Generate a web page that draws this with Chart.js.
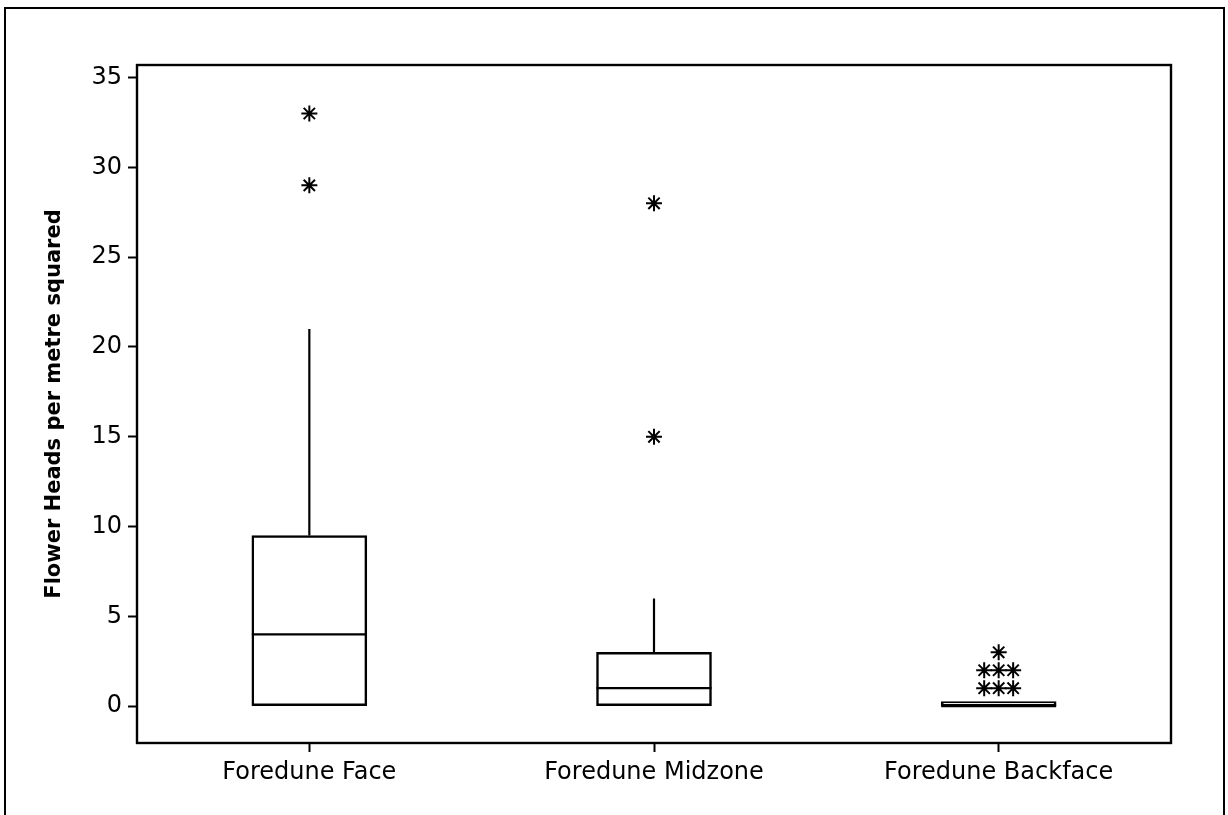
<!DOCTYPE html>
<html>
<head>
<meta charset="utf-8">
<script src="https://cdn.jsdelivr.net/npm/chart.js@4/dist/chart.umd.min.js"></script>
<style>
  html, body { margin: 0; padding: 0; background: #fff; overflow: hidden; }
  #wrap { position: relative; width: 1228px; height: 815px; }
  #frame { position: absolute; left: 4px; top: 7px; width: 1221px; height: 900px; border: 2px solid #000; box-sizing: border-box; }
  canvas { position: absolute; left: 0; top: 0; }
</style>
</head>
<body>
<div id="wrap">
  <div id="frame"></div>
  <canvas id="chart" width="1228" height="815"></canvas>
</div>
<script>
// values
const categories = ["Foredune Face", "Foredune Midzone", "Foredune Backface"];
const q1 = [0, 0, 0];
const median = [4, 1, 0];
const q3 = [9.5, 3, 0.25];
const whiskerLow = [0, 0, 0];
const whiskerHigh = [21, 6, 0.25];
const outliers = [[29, 33], [15, 28], [1, 1, 1, 2, 2, 2, 3]];
const yTicks = [0, 5, 10, 15, 20, 25, 30, 35];

// outliers with same value get spread sideways (like minitab does)
const outlierPoints = [];
outliers.forEach((vals, i) => {
  const counts = {};
  vals.forEach(v => counts[v] = (counts[v] || 0) + 1);
  const seen = {};
  vals.forEach(v => {
    const n = counts[v];
    const k = seen[v] = (seen[v] || 0) + 1;
    const shift = (k - 1 - (n - 1) / 2) * 0.042;
    outlierPoints.push({ x: i + shift, y: v });
  });
});

const boxParts = {
  id: "boxParts",
  afterDatasetsDraw(chart) {
    const ctx = chart.ctx;
    const y = chart.scales.y;
    const meta = chart.getDatasetMeta(0);
    ctx.save();
    ctx.strokeStyle = "#000";
    ctx.lineWidth = 2.2;
    meta.data.forEach((bar, i) => {
      const half = bar.width / 2;
      ctx.beginPath();
      ctx.moveTo(bar.x, y.getPixelForValue(q3[i]));
      ctx.lineTo(bar.x, y.getPixelForValue(whiskerHigh[i]));
      ctx.moveTo(bar.x, y.getPixelForValue(whiskerLow[i]));
      ctx.lineTo(bar.x, y.getPixelForValue(q1[i]));
      const ym = y.getPixelForValue(median[i]);
      ctx.moveTo(bar.x - half, ym);
      ctx.lineTo(bar.x + half, ym);
      ctx.stroke();
    });
    // frame around plot area
    const a = chart.chartArea;
    ctx.lineWidth = 2.4;
    ctx.strokeRect(a.left, a.top, a.right - a.left, a.bottom - a.top);
    ctx.restore();
  }
};

new Chart(document.getElementById("chart"), {
  type: "bar",
  data: {
    labels: categories,
    datasets: [
      {
        data: categories.map((c, i) => [q1[i], q3[i]]),
        backgroundColor: "#fff",
        borderColor: "#000",
        borderWidth: 2.5,
        borderSkipped: false,
        barThickness: 115,
        grouped: false
      },
      {
        type: "scatter",
        xAxisID: "xo",
        data: outlierPoints,
        pointStyle: "star",
        radius: 8,
        borderColor: "#000",
        backgroundColor: "#000",
        borderWidth: 2
      }
    ]
  },
  options: {
    responsive: false,
    animation: false,
    devicePixelRatio: 1,
    layout: { padding: { top: 65, right: 57, bottom: 0, left: 0 } },
    plugins: { legend: { display: false }, tooltip: { enabled: false } },
    scales: {
      x: {
        offset: true,
        grid: { drawOnChartArea: false, offset: false, tickLength: 9, tickWidth: 2, tickColor: "#000" },
        border: { display: false },
        ticks: { color: "#000", padding: 6, font: { family: "DejaVu Sans", size: 24 } },
        afterFit(scale) { scale.height = 72; }
      },
      xo: {
        type: "linear",
        display: false,
        offset: false,
        grace: 0,
        bounds: "ticks",
        min: -0.5,
        max: 2.5
      },
      y: {
        min: -2.05,
        max: 35.7,
        afterBuildTicks(scale) { scale.ticks = yTicks.map(v => ({ value: v })); },
        grid: { drawOnChartArea: false, tickLength: 9, tickWidth: 2, tickColor: "#000" },
        border: { display: false },
        ticks: { color: "#000", padding: 6, font: { family: "DejaVu Sans", size: 24 } },
        title: {
          display: true,
          text: "Flower Heads per metre squared",
          color: "#000",
          font: { family: "DejaVu Sans", size: 21, weight: "bold" },
          padding: { top: 42, bottom: 0 }
        },
        afterFit(scale) { scale.width = 137; }
      }
    }
  },
  plugins: [boxParts]
});
</script>
</body>
</html>
